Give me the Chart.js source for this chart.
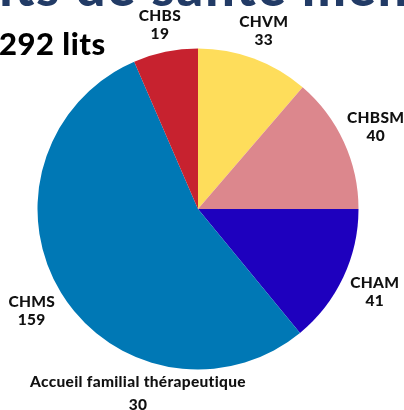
<!DOCTYPE html>
<html lang="fr">
<head>
<meta charset="utf-8">
<script src="https://cdn.jsdelivr.net/npm/chart.js@4.4.1/dist/chart.umd.min.js"></script>
<style>
  html, body { margin: 0; padding: 0; background: #fff; overflow: hidden; }
  #wrap { position: relative; width: 404px; height: 410px; }
  #title {
    position: absolute; left: -30px; top: -45px; white-space: nowrap;
    font: 900 52px Lato, sans-serif; color: #223b66; letter-spacing: 2px;
  }
  #total {
    position: absolute; left: -1px; top: 24px; white-space: nowrap;
    font: 900 31px Lato, sans-serif; color: #000; letter-spacing: 0.5px;
  }
  canvas { position: absolute; left: 0; top: 0; }
</style>
</head>
<body>
<div id="wrap">
  <canvas id="pie" width="404" height="410"></canvas>
  <div id="title">Lits de santé mentales du Sénégal</div>
  <div id="total">292 lits</div>
</div>
<script>
// établissements, dans l'ordre du camembert (depuis midi, sens horaire)
const labels = ['CHVM', 'CHBSM', 'CHAM', 'CHMS', 'CHBS'];
const lits = [33, 40, 41, 159, 19];
const couleurs = ['#fedd5b', '#dc878d', '#1e00be', '#0078b5', '#c7222f'];

// hors camembert
const extraLabel = 'Accueil familial thérapeutique';
const extraValue = 30;

// étiquettes autour du camembert
const sliceLabels = {
    id: 'sliceLabels',
    afterDraw(chart) {
        const ctx = chart.ctx;
        const arcs = chart.getDatasetMeta(0).data;
        ctx.save();
        ctx.fillStyle = '#111';
        ctx.font = '900 15.5px Lato, sans-serif';
        ctx.letterSpacing = '0.3px';
        ctx.textAlign = 'center';
        ctx.textBaseline = 'middle';
        arcs.forEach((arc, i) => {
            const mid = (arc.startAngle + arc.endAngle) / 2;
            const d = arc.outerRadius + 25 + 11 * Math.abs(Math.cos(mid));
            const x = arc.x + Math.cos(mid) * d;
            const y = arc.y + Math.sin(mid) * d;
            ctx.fillText(labels[i], x, y - 9);
            ctx.fillText(String(chart.data.datasets[0].data[i]), x, y + 9);
        });
        // accueil familial sous le graphique
        const cx = arcs[0].x - 60;
        ctx.fillText(extraLabel, cx, 382);
        ctx.fillText(String(extraValue), cx, 405);
        ctx.restore();
    }
};

new Chart(document.getElementById('pie'), {
    type: 'pie',
    data: {
        labels: labels,
        datasets: [{
            data: lits,
            backgroundColor: couleurs,
            borderWidth: 0
        }]
    },
    options: {
        responsive: false,
        animation: false,
        layout: { padding: { top: 48.5, bottom: 40.5, left: 37.5, right: 45.5 } },
        plugins: {
            legend: { display: false },
            tooltip: { enabled: false }
        }
    },
    plugins: [sliceLabels]
});
</script>
</body>
</html>
